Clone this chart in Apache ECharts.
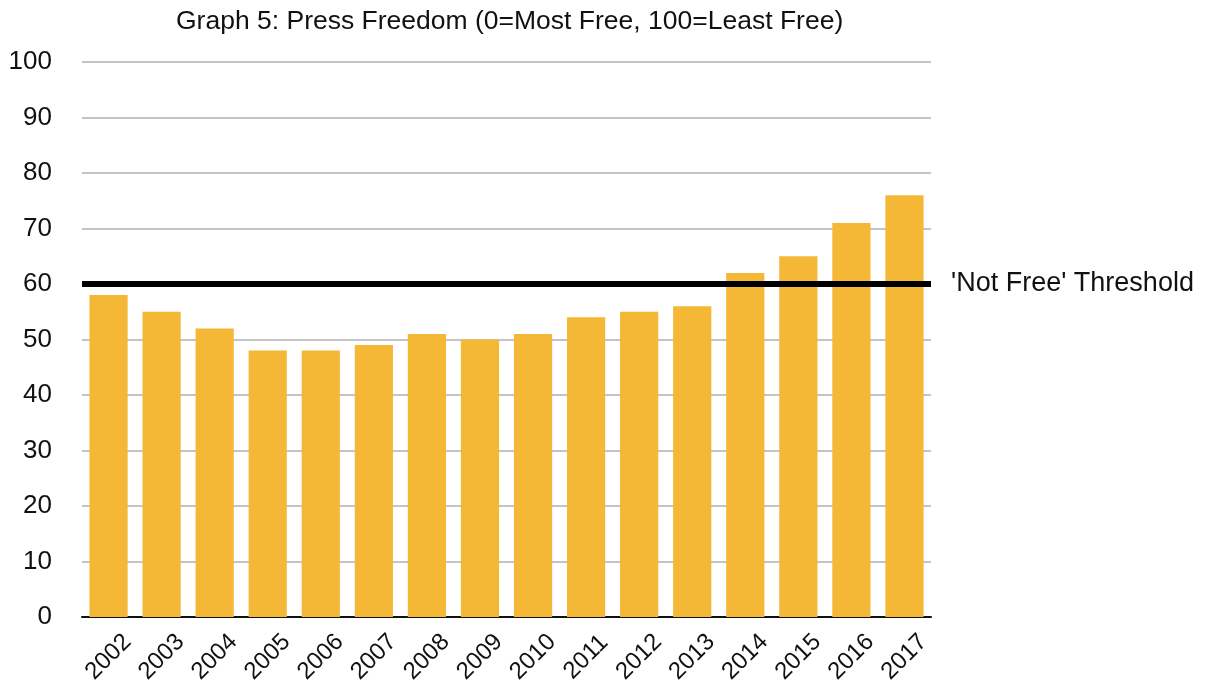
<!DOCTYPE html>
<html>
<head>
<meta charset="utf-8">
<script src="https://cdn.jsdelivr.net/npm/echarts@6/dist/echarts.min.js"></script>
<style>
  html, body { margin: 0; padding: 0; background: #fff; }
  #chart { width: 1205px; height: 682px; }
</style>
</head>
<body>
<div id="chart"></div>
<script>
// Press freedom scores by year (0 = most free, 100 = least free)
const years = ['2002','2003','2004','2005','2006','2007','2008','2009',
               '2010','2011','2012','2013','2014','2015','2016','2017'];
const scores = [58, 55, 52, 48, 48, 49, 51, 50, 51, 54, 55, 56, 62, 65, 71, 76];
const threshold = 60;
const thresholdLabel = "'Not Free' Threshold";
const titleText = 'Graph 5: Press Freedom (0=Most Free, 100=Least Free)';

const font = '"Liberation Sans", Arial, Helvetica, sans-serif';
const chart = echarts.init(document.getElementById('chart'));

chart.setOption({
  animation: false,
  backgroundColor: '#ffffff',
  title: {
    text: titleText,
    left: 171,
    top: 3,
    textStyle: { fontFamily: font, fontSize: 26.5, fontWeight: 'normal', color: '#111' }
  },
  grid: {
    left: 82, right: 274, top: 62, bottom: 65,
    containLabel: false,
    outerBoundsMode: 'none'
  },
  xAxis: {
    type: 'category',
    data: years,
    axisLine: { lineStyle: { color: '#111', width: 2 } },
    axisTick: { show: false },
    axisLabel: {
      rotate: 45,
      align: 'center',
      verticalAlign: 'middle',
      fontFamily: font,
      fontSize: 24,
      color: '#111',
      margin: 40
    }
  },
  yAxis: {
    type: 'value',
    min: 0,
    max: 100,
    interval: 10,
    axisLine: { show: false },
    axisTick: { show: false },
    splitLine: { lineStyle: { color: '#c4c4c4', width: 2 } },
    axisLabel: { fontFamily: font, fontSize: 26, color: '#111', margin: 30 }
  },
  series: [{
    type: 'bar',
    data: scores,
    barCategoryGap: '28%',
    itemStyle: { color: '#F5B836' },
    markLine: {
      silent: true,
      symbol: 'none',
      data: [{ yAxis: threshold }],
      lineStyle: { color: '#000', width: 6, type: 'solid' },
      label: {
        show: true,
        position: 'end',
        distance: 20,
        formatter: thresholdLabel,
        fontFamily: font,
        fontSize: 27,
        color: '#111'
      }
    }
  }]
});
</script>
</body>
</html>
